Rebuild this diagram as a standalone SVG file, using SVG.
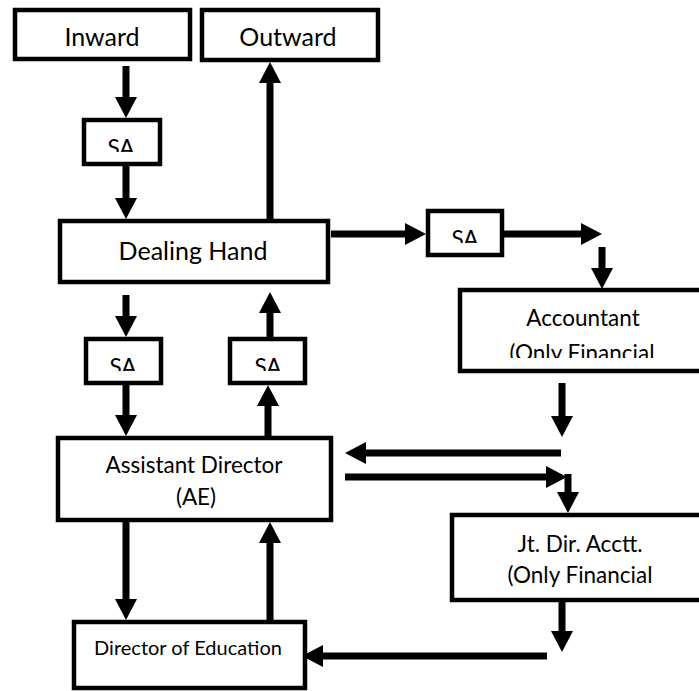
<svg xmlns="http://www.w3.org/2000/svg" width="699" height="691" viewBox="0 0 699 691">
<style>
.box{fill:#fff;stroke:#000;stroke-width:4.5}
.t{font-family:Lato,"Open Sans",sans-serif;fill:#000;text-anchor:middle}
.big{font-size:25px}
.mid{font-size:22.5px}
.sm{font-size:20px}
.c line{stroke:#000;stroke-width:7;marker-end:url(#ah)}
</style>
<defs>
<marker id="ah" viewBox="0 0 21 22" markerWidth="21" markerHeight="22" refX="1" refY="11" orient="auto" markerUnits="userSpaceOnUse">
<path d="M0,0 L21,11 L0,22 z" fill="#000"/>
</marker>
<clipPath id="c1"><rect x="80" y="118" width="90" height="34"/></clipPath>
<clipPath id="c2"><rect x="424" y="209" width="90" height="34"/></clipPath>
<clipPath id="c3"><rect x="82" y="337" width="90" height="34"/></clipPath>
<clipPath id="c4"><rect x="226" y="337" width="90" height="34"/></clipPath>
<clipPath id="c5"><rect x="458" y="288" width="241" height="70"/></clipPath>
</defs>
<g class="c" id="connectors">
<line x1="126" y1="66" x2="126" y2="98"/>
<line x1="126" y1="166" x2="126" y2="199"/>
<line x1="270" y1="219" x2="270" y2="82"/>
<line x1="331" y1="234" x2="406" y2="234"/>
<line x1="504" y1="234" x2="582" y2="234"/>
<line x1="602" y1="247" x2="602" y2="269"/>
<line x1="126" y1="295" x2="126" y2="317"/>
<line x1="126" y1="385" x2="126" y2="416"/>
<line x1="270" y1="337" x2="270" y2="312"/>
<line x1="268" y1="436" x2="268" y2="405"/>
<line x1="562" y1="383" x2="562" y2="417"/>
<line x1="561" y1="453" x2="365" y2="453"/>
<line x1="345" y1="477" x2="547" y2="477"/>
<line x1="568" y1="474" x2="568" y2="493"/>
<line x1="126" y1="522" x2="126" y2="600"/>
<line x1="270" y1="620" x2="270" y2="542"/>
<line x1="562" y1="602" x2="562" y2="632"/>
<line x1="547" y1="656" x2="322" y2="656"/>
</g>
<g id="inward"><rect class="box" x="15" y="10" width="175" height="49"/><text class="t big" x="102" y="46">Inward</text></g>
<g id="outward"><rect class="box" x="202" y="10" width="176" height="50"/><text class="t big" x="288" y="46">Outward</text></g>
<g id="sa1"><rect class="box" x="84" y="120" width="76" height="44"/><text class="t mid" x="121" y="156" clip-path="url(#c1)">SA</text></g>
<g id="dealing"><rect class="box" x="60" y="221" width="268" height="61"/><text class="t big" x="193" y="260">Dealing Hand</text></g>
<g id="sa2"><rect class="box" x="428" y="211" width="74" height="44"/><text class="t mid" x="465" y="247" clip-path="url(#c2)">SA</text></g>
<g id="accountant"><rect class="box" x="460" y="290" width="260" height="81"/><text class="t mid" x="583" y="326">Accountant</text><text class="t mid" x="582" y="361" clip-path="url(#c5)">(Only Financial</text></g>
<g id="sa3"><rect class="box" x="86" y="339" width="75" height="44"/><text class="t mid" x="123" y="375" clip-path="url(#c3)">SA</text></g>
<g id="sa4"><rect class="box" x="230" y="339" width="75" height="44"/><text class="t mid" x="268" y="375" clip-path="url(#c4)">SA</text></g>
<g id="assistant"><rect class="box" x="58" y="438" width="273" height="82"/><text class="t mid" x="194" y="473">Assistant Director</text><text class="t mid" x="196" y="505">(AE)</text></g>
<g id="jtdir"><rect class="box" x="452" y="515" width="260" height="85"/><text class="t mid" x="580" y="552">Jt. Dir. Acctt.</text><text class="t mid" x="580" y="583">(Only Financial</text></g>
<g id="director"><rect class="box" x="74" y="622" width="231" height="66"/><text class="t sm" x="188" y="655">Director of Education</text></g>
</svg>
